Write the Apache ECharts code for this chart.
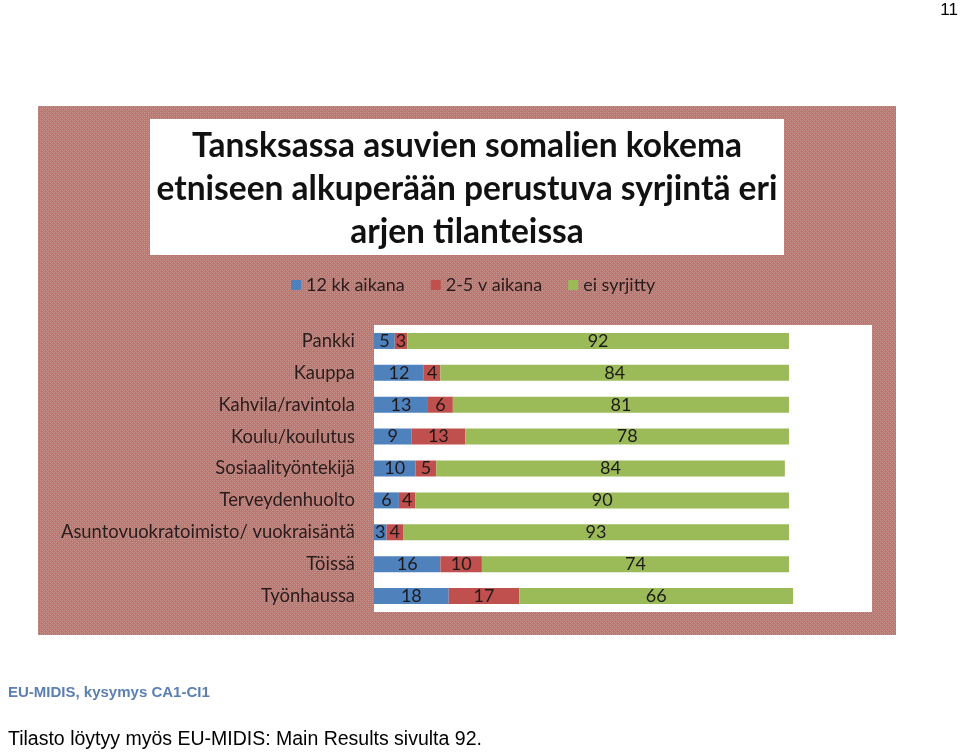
<!DOCTYPE html>
<html>
<head>
<meta charset="utf-8">
<script src="https://cdn.jsdelivr.net/npm/echarts@6/dist/echarts.min.js"></script>
<style>
html,body{margin:0;padding:0;background:#fff;}
#c{width:960px;height:754px;}
</style>
</head>
<body>
<div id="c"></div>
<script>
var categories = ['Pankki','Kauppa','Kahvila/ravintola','Koulu/koulutus','Sosiaalityöntekijä','Terveydenhuolto','Asuntovuokratoimisto/ vuokraisäntä','Töissä','Työnhaussa'];
var seriesNames = ['12 kk aikana','2-5 v aikana','ei syrjitty'];
var s12kk = [5,12,13,9,10,6,3,16,18];
var s25v = [3,4,6,13,5,4,4,10,17];
var sEi = [92,84,81,78,84,90,93,74,66];
var titleLines = ['Tansksassa asuvien somalien kokema','etniseen alkuperään perustuva syrjintä eri','arjen tilanteissa'];

var pc = document.createElement('canvas');
pc.width = 4; pc.height = 4;
var px = pc.getContext('2d');
px.fillStyle = '#b6766f'; px.fillRect(0,0,4,4);
px.fillStyle = '#c8958e';
px.fillRect(0,0,1,1); px.fillRect(2,2,1,1); px.fillRect(2,0,1,1); px.fillRect(0,2,1,1);
px.fillStyle = '#bf8780';
px.fillRect(1,1,1,1); px.fillRect(3,3,1,1);

var chart = echarts.init(document.getElementById('c'));
var font = 'Lato';
var labelColor = '#1e1a1a';
function mk(name, data, color){
  return {name:name, type:'bar', stack:'t', data:data, barWidth:16,
    itemStyle:{color:color},
    label:{show:true, position:'inside', color:labelColor, fontFamily:font, fontSize:18}};
}
chart.setOption({
  animation:false,
  graphic:[
    {type:'rect', z:-10, shape:{x:38,y:106,width:858,height:529}, style:{fill:{image:pc, repeat:'repeat'}}},
    {type:'rect', z:-9, shape:{x:150,y:119,width:634,height:136}, style:{fill:'#fff'}},
    {type:'text', x:467, y:146, style:{text:titleLines[0], fontFamily:font, fontWeight:'bold', fontSize:33.5, fill:'#111', align:'center', verticalAlign:'middle'}},
    {type:'text', x:467, y:189, style:{text:titleLines[1], fontFamily:font, fontWeight:'bold', fontSize:33.5, fill:'#111', align:'center', verticalAlign:'middle'}},
    {type:'text', x:467, y:232, style:{text:titleLines[2], fontFamily:font, fontWeight:'bold', fontSize:33.5, fill:'#111', align:'center', verticalAlign:'middle'}},
    {type:'text', x:958, y:10, style:{text:'11', fontFamily:'Liberation Sans', fontSize:17, fill:'#000', align:'right', verticalAlign:'middle'}},
    {type:'text', x:8, y:693, style:{text:'EU-MIDIS, kysymys CA1-CI1', fontFamily:'Liberation Sans', fontWeight:'bold', fontSize:15, fill:'#5b7fb3', align:'left', verticalAlign:'middle'}},
    {type:'text', x:8, y:740, style:{text:'Tilasto löytyy myös EU-MIDIS: Main Results sivulta 92.', fontFamily:'Liberation Sans', fontSize:19.5, fill:'#000', align:'left', verticalAlign:'middle'}}
  ],
  legend:{data:seriesNames, left:286, top:271, icon:'rect', itemWidth:10, itemHeight:10, itemGap:26,
    textStyle:{fontFamily:font, fontSize:18, color:'#2a1c1c'}},
  grid:{left:374, top:325, width:498, height:287, show:true, backgroundColor:'#fff', borderWidth:0, containLabel:false},
  xAxis:{type:'value', min:0, max:120, show:false},
  yAxis:{type:'category', data:categories, inverse:true,
    axisLine:{show:false}, axisTick:{show:false}, splitLine:{show:false},
    axisLabel:{margin:19, fontFamily:font, fontSize:18.4, color:'#2a1c1c'}},
  series:[mk(seriesNames[0], s12kk, '#4f81bd'), mk(seriesNames[1], s25v, '#c0504d'), mk(seriesNames[2], sEi, '#9bbb59')]
});
</script>
</body>
</html>
